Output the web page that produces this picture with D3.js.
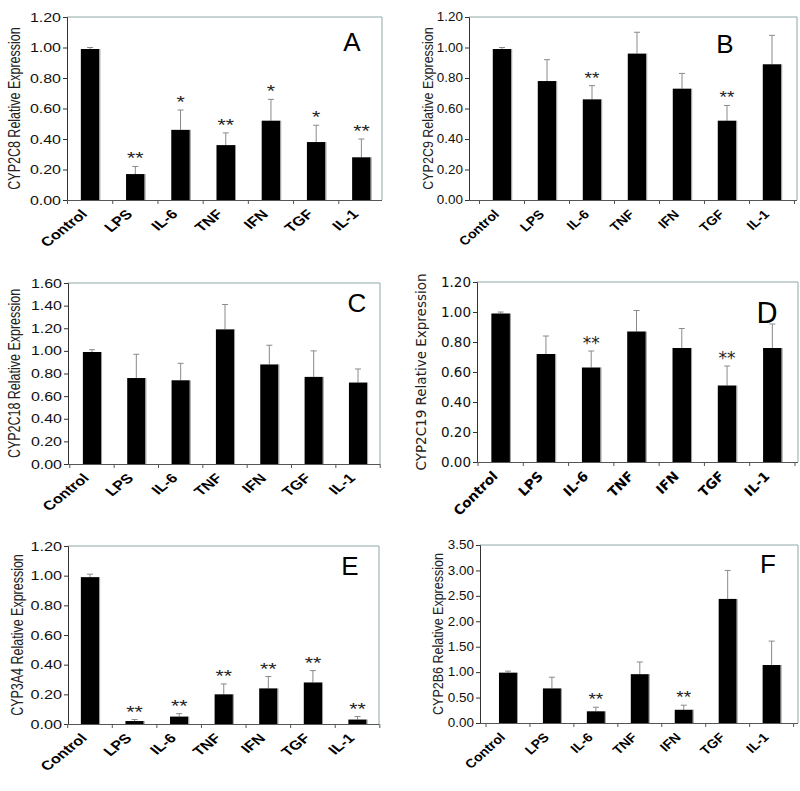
<!DOCTYPE html>
<html>
<head>
<meta charset="utf-8">
<script src="https://cdn.jsdelivr.net/npm/d3@7"></script>
<style>
html,body{margin:0;padding:0;background:#fff;}
svg{display:block;}
</style>
</head>
<body>
<svg id="chart" width="800" height="791"></svg>
<script>
// ---- data ----
const categories = ["Control","LPS","IL-6","TNF","IFN","TGF","IL-1"];

const panelLetters = ["A","B","C","D","E","F"];
const yLabels = ["CYP2C8 Relative Expression","CYP2C9 Relative Expression","CYP2C18 Relative Expression",
                 "CYP2C19 Relative Expression","CYP3A4 Relative Expression","CYP2B6 Relative Expression"];
const yMax = [1.2, 1.2, 1.6, 1.2, 1.2, 3.5];
const yStep = [0.2, 0.2, 0.2, 0.2, 0.2, 0.5];

const meansA = [0.99, 0.17, 0.46, 0.36, 0.52, 0.38, 0.28];
const errA   = [0.01, 0.05, 0.13, 0.08, 0.14, 0.11, 0.12];
const starsA = ["", "**", "*", "**", "*", "*", "**"];

const meansB = [0.99, 0.78, 0.66, 0.96, 0.73, 0.52, 0.89];
const errB   = [0.01, 0.14, 0.09, 0.14, 0.10, 0.10, 0.19];
const starsB = ["", "", "**", "", "", "**", ""];

const meansC = [0.99, 0.76, 0.74, 1.19, 0.88, 0.77, 0.72];
const errC   = [0.02, 0.21, 0.15, 0.22, 0.17, 0.23, 0.12];
const starsC = ["", "", "", "", "", "", ""];

const meansD = [0.99, 0.72, 0.63, 0.87, 0.76, 0.51, 0.76];
const errD   = [0.01, 0.12, 0.11, 0.14, 0.13, 0.13, 0.16];
const starsD = ["", "", "**", "", "", "**", ""];

const meansE = [0.99, 0.02, 0.05, 0.20, 0.24, 0.28, 0.03];
const errE   = [0.02, 0.01, 0.02, 0.07, 0.08, 0.08, 0.02];
const starsE = ["", "**", "**", "**", "**", "**", "**"];

const meansF = [0.99, 0.68, 0.23, 0.96, 0.26, 2.44, 1.14];
const errF   = [0.03, 0.22, 0.08, 0.24, 0.09, 0.56, 0.47];
const starsF = ["", "", "**", "", "**", "", ""];

const allMeans = [meansA, meansB, meansC, meansD, meansE, meansF];
const allErr = [errA, errB, errC, errD, errE, errF];
const allStars = [starsA, starsB, starsC, starsD, starsE, starsF];

// ---- layout (positions, not data) ----
const ARIAL = "Arial, 'Liberation Sans', sans-serif";
const VERD = "Verdana, 'DejaVu Sans', sans-serif";
const layout = [
  {ax:67, right:382, top:17, bottom:200, b0:67.5, b1:384, font:ARIAL, ylx:15, letter:[352,51], tfs:12.8, s:1.25, xfs:13, lfs:26},
  {ax:469, right:797, top:17, bottom:200, b0:479.5, b1:794.5, font:ARIAL, ylx:428, letter:[725,53], tfs:12, s:1.12, xfs:12.5, lfs:26},
  {ax:68, right:380, top:283, bottom:464, b0:69.8, b1:380.2, font:ARIAL, ylx:15, letter:[357,312], tfs:12.8, s:1.25, xfs:13, lfs:26},
  {ax:477, right:798, top:282, bottom:462, b0:478, b1:795, font:VERD, ylx:421, letter:[767,323], tfs:13.5, s:1.0, xfs:13.5, lfs:28},
  {ax:68, right:379, top:546, bottom:724, b0:67.7, b1:379.8, font:ARIAL, ylx:18, letter:[350,575], tfs:13, s:1.25, xfs:13, lfs:26},
  {ax:480, right:798, top:545, bottom:723, b0:486, b1:793.6, font:ARIAL, ylx:438, letter:[768,573], tfs:12, s:1.12, xfs:12.5, lfs:26}
];

const svg = d3.select("#chart");

layout.forEach((L, i) => {
  const g = svg.append("g");
  const x = d3.scaleBand().domain(categories).range([L.b0, L.b1]).paddingInner(0.59).paddingOuter(0.295);
  const y = d3.scaleLinear().domain([0, yMax[i]]).range([L.bottom, L.top]);
  const ticks = d3.range(0, yMax[i] + 1e-9, yStep[i]);

  // frame (top & right)
  g.append("path")
    .attr("d", `M${L.ax},${L.top}H${L.right}V${L.bottom}`)
    .attr("fill", "none").attr("stroke", "#8fa8a8").attr("stroke-width", 1);

  // bars
  const means = allMeans[i], errs = allErr[i], stars = allStars[i];
  const bw = x.bandwidth();
  categories.forEach((c, k) => {
    const cx = x(c) + bw / 2;
    const yt = y(means[k] + errs[k]);
    g.append("line").attr("x1", cx).attr("x2", cx).attr("y1", y(means[k])).attr("y2", yt)
      .attr("stroke", "#8a8a8a").attr("stroke-width", 1);
    g.append("line").attr("x1", cx - 3).attr("x2", cx + 3).attr("y1", yt).attr("y2", yt)
      .attr("stroke", "#8a8a8a").attr("stroke-width", 1);
    g.append("rect").attr("x", x(c)).attr("y", y(means[k]))
      .attr("width", bw).attr("height", y(0) - y(means[k]))
      .attr("fill", "#000");
    g.append("line").attr("x1", x(c) + bw + 0.5).attr("x2", x(c) + bw + 0.5)
      .attr("y1", y(means[k])).attr("y2", y(0)).attr("stroke", "#9a9a9a").attr("stroke-width", 1);
    if (stars[k]) {
      g.append("text")
        .attr("transform", `translate(${cx},${yt - 2}) scale(${L.s},1)`)
        .attr("text-anchor", "middle")
        .style("font-family", L.font).style("font-size", "17px").style("fill", "#222")
        .text(stars[k]);
    }
  });

  // y axis
  const yAxis = d3.axisLeft(y).tickValues(ticks).tickFormat(d3.format(".2f")).tickSize(4).tickPadding(3);
  const ya = g.append("g").attr("transform", `translate(${L.ax},0)`).call(yAxis);
  ya.select(".domain").attr("stroke", "#333");
  ya.selectAll(".tick line").attr("stroke", "#333");
  ya.selectAll("text")
    .attr("x", 0)
    .attr("transform", `translate(-6,0) scale(${L.s},1)`)
    .style("font-family", L.font).style("font-size", L.tfs + "px").style("fill", "#111");

  // x axis line with boundary ticks
  g.append("line").attr("x1", L.ax).attr("x2", L.right).attr("y1", L.bottom + 0.5).attr("y2", L.bottom + 0.5)
    .attr("stroke", "#555").attr("stroke-width", 1);
  const step = x.step();
  d3.range(categories.length + 1).forEach(k => {
    const tx = L.b0 + k * step;
    if (tx <= L.right + 1) {
      g.append("line").attr("x1", tx).attr("x2", tx).attr("y1", L.bottom).attr("y2", L.bottom + 4)
        .attr("stroke", "#555");
    }
  });
  // x labels
  categories.forEach(c => {
    const cx = x(c) + bw / 2 - 2;
    g.append("text")
      .attr("transform", `translate(${cx},${L.bottom + 15}) scale(${L.s},1) rotate(-45)`)
      .attr("text-anchor", "end")
      .style("font-family", L.font).style("font-weight", "bold")
      .style("font-size", L.xfs + "px").style("fill", "#000")
      .text(c);
  });

  // y label
  g.append("text")
    .attr("transform", `translate(${L.ylx},${(L.top + L.bottom) / 2}) scale(${L.s},1) rotate(-90)`)
    .attr("text-anchor", "middle").attr("dy", "0.35em")
    .style("font-family", L.font).style("font-size", (i === 3 ? 13.5 : 12.5) + "px").style("fill", "#222")
    .text(yLabels[i]);

  // panel letter
  g.append("text").attr("x", L.letter[0]).attr("y", L.letter[1])
    .attr("text-anchor", "middle")
    .style("font-family", L.font).style("font-size", L.lfs + "px").style("fill", "#000")
    .text(panelLetters[i]);
});
</script>
</body>
</html>
